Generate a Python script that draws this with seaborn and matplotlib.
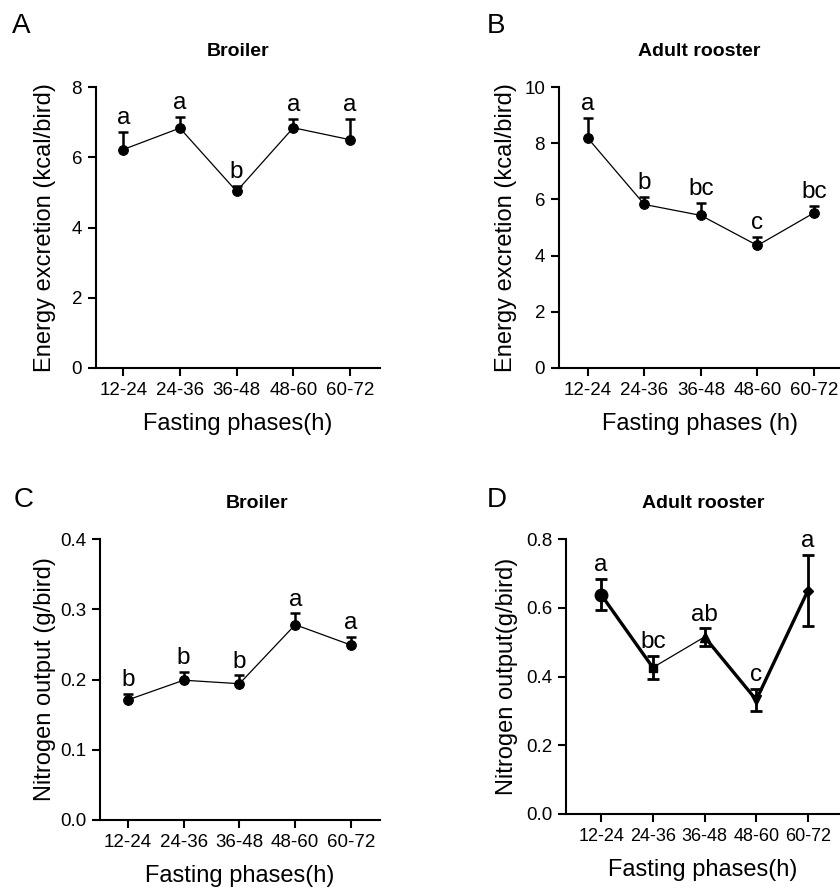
import numpy as np
import matplotlib
matplotlib.use("Agg")
import matplotlib.pyplot as plt
import seaborn as sns

# fasting phases (x categories)
phases = ["12-24", "24-36", "36-48", "48-60", "60-72"]

# A: broiler energy excretion (kcal/bird), mean + upper SEM
broiler_energy = [6.22, 6.83, 5.03, 6.84, 6.50]
broiler_energy_err = [0.51, 0.33, 0.15, 0.25, 0.59]
broiler_energy_letters = ["a", "a", "b", "a", "a"]

# B: adult rooster energy excretion (kcal/bird)
rooster_energy = [8.18, 5.82, 5.43, 4.36, 5.52]
rooster_energy_err = [0.73, 0.28, 0.45, 0.31, 0.25]
rooster_energy_letters = ["a", "b", "bc", "c", "bc"]

# C: broiler nitrogen output (g/bird)
broiler_nitrogen = [0.171, 0.199, 0.194, 0.278, 0.249]
broiler_nitrogen_err = [0.008, 0.012, 0.012, 0.016, 0.012]
broiler_nitrogen_letters = ["b", "b", "b", "a", "a"]

# D: adult rooster nitrogen output (g/bird), symmetric SEM
rooster_nitrogen = [0.638, 0.426, 0.515, 0.332, 0.650]
rooster_nitrogen_err = [0.045, 0.034, 0.025, 0.031, 0.104]
rooster_nitrogen_letters = ["a", "bc", "ab", "c", "a"]
rooster_markers = ["o", "s", "^", "v", "D"]

sns.set_style("ticks")
plt.rcParams["font.family"] = ["Liberation Sans", "DejaVu Sans"]
plt.rcParams["axes.linewidth"] = 1.5
for k in ["text.color", "axes.labelcolor", "xtick.color", "ytick.color", "axes.edgecolor"]:
    plt.rcParams[k] = "black"

fig = plt.figure(figsize=(8.4, 8.89), dpi=100)
W, H = 840, 889


def add_ax(left, right, top, bottom):
    return fig.add_axes([left / W, 1 - bottom / H, (right - left) / W, (bottom - top) / H])


def style_axis(ax, ymax, ystep, yfmt, xlim, ylabel, xlabel, title, title_x=0.5, ypad=7):
    ax.set_xlim(*xlim)
    ax.set_ylim(0, ymax)
    ticks = np.arange(0, ymax + ystep / 2, ystep)
    ax.set_yticks(ticks)
    ax.set_yticklabels([yfmt.format(t) for t in ticks])
    ax.set_xticks(np.arange(len(phases)))
    ax.set_xticklabels(phases)
    ax.tick_params(axis="both", labelsize=13.5, width=1.5, length=6, color="black", pad=4)
    ax.set_ylabel(ylabel, fontsize=17, labelpad=ypad)
    ax.set_xlabel(xlabel, fontsize=17, labelpad=10)
    ax.set_title(title, fontsize=14, fontweight="bold", pad=22, x=title_x)
    sns.despine(ax=ax)


def upper_panel(ax, means, errs, letters):
    x = np.arange(len(phases))
    eb = ax.errorbar(x, means, yerr=[np.zeros(len(errs)), errs], fmt="none",
                     ecolor="black", elinewidth=1.8, capsize=3.5, capthick=1.8, zorder=2)
    eb[1][0].set_visible(False)
    sns.lineplot(x=x, y=means, ax=ax, color="black", lw=0.9, marker="o",
                 markersize=7, markeredgecolor="black", zorder=3)
    for xi, m, e, t in zip(x, means, errs, letters):
        ax.annotate(t, (xi, m + e), xytext=(0, 2), textcoords="offset points",
                    ha="center", va="bottom", fontsize=17.5)


# A
axA = add_ax(96, 380, 87, 368)
upper_panel(axA, broiler_energy, broiler_energy_err, broiler_energy_letters)
style_axis(axA, 8, 2, "{:.0f}", (-0.48, 4.53), "Energy excretion (kcal/bird)",
           "Fasting phases(h)", "Broiler", ypad=11)

# B
axB = add_ax(559, 840, 87, 368)
upper_panel(axB, rooster_energy, rooster_energy_err, rooster_energy_letters)
style_axis(axB, 10, 2, "{:.0f}", (-0.51, 4.46), "Energy excretion (kcal/bird)",
           "Fasting phases (h)", "Adult rooster", ypad=5)

# C
axC = add_ax(100, 380, 539, 820)
upper_panel(axC, broiler_nitrogen, broiler_nitrogen_err, broiler_nitrogen_letters)
style_axis(axC, 0.4, 0.1, "{:.1f}", (-0.5, 4.52), "Nitrogen output (g/bird)",
           "Fasting phases(h)", "Broiler", title_x=0.56, ypad=3)

# D
axD = add_ax(566, 840, 539, 814)
xD = np.arange(len(phases))
seg_widths = [2.4, 0.9, 2.4, 2.4]
for i, lw in enumerate(seg_widths):
    sns.lineplot(x=xD[i:i + 2], y=rooster_nitrogen[i:i + 2], ax=axD, color="black", lw=lw, zorder=2)
axD.errorbar(xD, rooster_nitrogen, yerr=rooster_nitrogen_err, fmt="none", ecolor="black",
             elinewidth=2.0, capsize=4, capthick=2.0, zorder=4)
sizes = {"o": 9, "s": 6, "^": 7, "v": 7, "D": 5.5}
for xi, m, mk in zip(xD, rooster_nitrogen, rooster_markers):
    axD.plot([xi], [m], marker=mk, color="black", markersize=sizes[mk], zorder=3)
for xi, m, e, t in zip(xD, rooster_nitrogen, rooster_nitrogen_err, rooster_nitrogen_letters):
    axD.annotate(t, (xi, m + e), xytext=(0, 2), textcoords="offset points",
                 ha="center", va="bottom", fontsize=17.5)
style_axis(axD, 0.8, 0.2, "{:.1f}", (-0.68, 4.62), "Nitrogen output(g/bird)",
           "Fasting phases(h)", "Adult rooster", ypad=6)
axD.tick_params(axis="x", labelsize=13)

# panel letters
for lab, px, py in [("A", 12, 33), ("B", 487, 33), ("C", 14, 507), ("D", 487, 507)]:
    fig.text(px / W, 1 - py / H, lab, fontsize=20, ha="left", va="baseline")

fig.savefig("out.png", dpi=100)
